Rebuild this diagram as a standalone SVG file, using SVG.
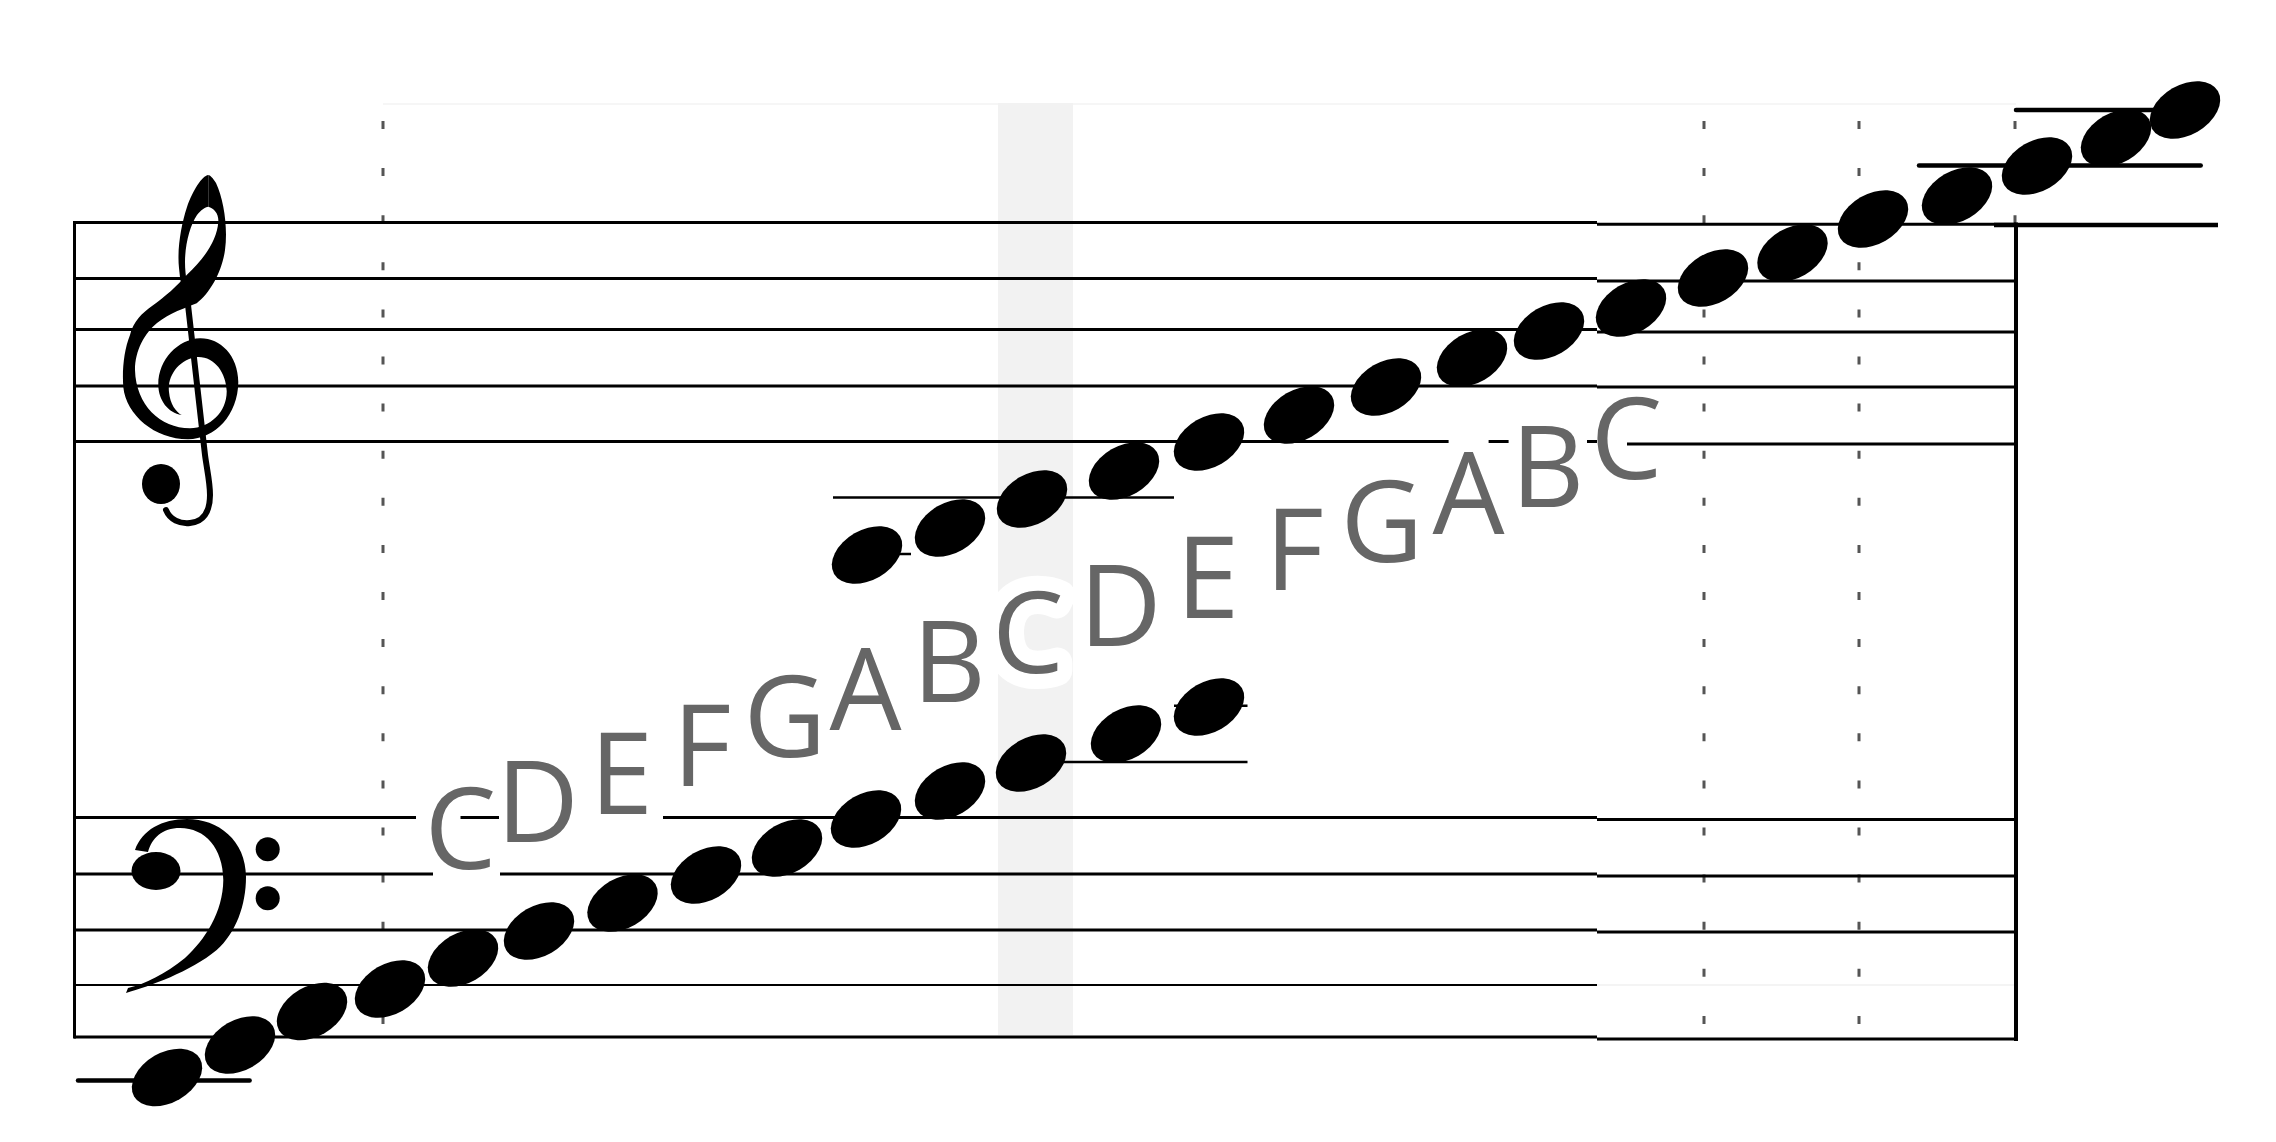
<svg xmlns="http://www.w3.org/2000/svg" xmlns:xlink="http://www.w3.org/1999/xlink" width="2276" height="1142" viewBox="0 0 2276 1142">
<style>
.st{stroke:#000;stroke-width:3;fill:none}
.st2{stroke:#000;stroke-width:2;fill:none}
.lg{stroke:#000;stroke-width:2.5;fill:none}
.lgr{stroke:#000;stroke-width:4.5;stroke-linecap:round;fill:none}
.dash{stroke:#555;stroke-width:3;stroke-dasharray:8 39.1;fill:none}
.lbl{font-family:"Open Sans","Liberation Sans",sans-serif;font-size:114px;fill:#666}
.halo{fill:#fff;stroke:#fff;stroke-width:30;stroke-linejoin:round}
.ink{fill:#000}
</style>
<defs>
<ellipse id="nh" cx="0" cy="0" rx="38" ry="25" transform="rotate(-30)"/>
</defs>
<rect x="0" y="0" width="2276" height="1142" fill="#fff"/>
<g id="background">
<line x1="383" y1="104" x2="2016" y2="104" stroke="#f3f3f3" stroke-width="1.5"/>
<rect x="998" y="103" width="75" height="932" fill="#f2f2f2"/>
</g>
<g id="guides">
<line class="dash" x1="383" y1="121" x2="383" y2="1040"/>
<line class="dash" x1="1704" y1="121" x2="1704" y2="1040"/>
<line class="dash" x1="1859" y1="121" x2="1859" y2="1040"/>
<line class="dash" x1="2015" y1="121" x2="2015" y2="224"/>
</g>
<g id="treble-staff">
<line class="st" x1="74" y1="222.5" x2="1597" y2="222.5"/>
<line class="st" x1="74" y1="278.5" x2="1597" y2="278.5"/>
<line class="st" x1="74" y1="329.5" x2="1597" y2="329.5"/>
<line class="st" x1="74" y1="386" x2="1597" y2="386"/>
<line class="st" x1="74" y1="441.5" x2="1448.6" y2="441.5"/>
<line class="st" x1="1488.6" y1="441.5" x2="1508.6" y2="441.5"/>
<line class="st" x1="1587" y1="441.5" x2="1597" y2="441.5"/>
<line class="st" x1="1597" y1="224.3" x2="2016" y2="224.3"/>
<line x1="1994" y1="225" x2="2218" y2="225" stroke="#000" stroke-width="4.5"/>
<line class="st" x1="1597" y1="281" x2="2016" y2="281"/>
<line class="st" x1="1597" y1="332" x2="2016" y2="332"/>
<line class="st" x1="1597" y1="387" x2="2016" y2="387"/>
<line class="st" x1="1627" y1="444" x2="2016" y2="444"/>
</g>
<g id="bass-staff">
<line class="st" x1="74" y1="817.5" x2="416" y2="817.5"/>
<line class="st" x1="460.5" y1="817.5" x2="499" y2="817.5"/>
<line class="st" x1="663" y1="817.5" x2="1597" y2="817.5"/>
<line class="st" x1="74" y1="874" x2="433" y2="874"/>
<line class="st" x1="500" y1="874" x2="1597" y2="874"/>
<line class="st" x1="74" y1="930" x2="1597" y2="930"/>
<line class="st2" x1="74" y1="985" x2="1597" y2="985"/>
<line class="st" x1="74" y1="1037" x2="1597" y2="1037"/>
<line class="st" x1="1597" y1="819.5" x2="2016" y2="819.5"/>
<line class="st" x1="1597" y1="876" x2="2016" y2="876"/>
<line class="st" x1="1597" y1="932" x2="2016" y2="932"/>
<line x1="1597" y1="985" x2="2016" y2="985" stroke="#f4f4f4" stroke-width="2"/>
<line class="st" x1="1597" y1="1039" x2="2016" y2="1039"/>
</g>
<g id="frame">
<line x1="74.5" y1="221" x2="74.5" y2="1038.5" stroke="#000" stroke-width="3"/>
<line x1="2016" y1="222.5" x2="2016" y2="1041" stroke="#000" stroke-width="4"/>
</g>
<g id="ledgers">
<line class="lgr" x1="78" y1="1080.4" x2="249.6" y2="1080.4"/>
<line class="lg" x1="1063.6" y1="762" x2="1247.5" y2="762"/>
<line class="lg" x1="1174" y1="705.7" x2="1247.5" y2="705.7"/>
<line class="lg" x1="833" y1="497.5" x2="1174" y2="497.5"/>
<line class="lg" x1="840" y1="554" x2="911" y2="554"/>
<line class="lgr" x1="1919" y1="165.4" x2="2200.7" y2="165.4"/>
<line class="lgr" x1="2016" y1="110" x2="2190" y2="110"/>
</g>
<g id="treble-clef" class="ink">
<path d="M181.7,415 C176,412 170,404 169,392 C167,375 180,359 197,357 C214,356 226,372 226.7,391 C227,412 210,428 190,428.3 C160,428 136,405 135,370 C135,350 145,333 157,323 C170,313 185,308 196.7,303.3 C210,293 222,272 225,250 C228,228 224,200 216,183 C213,178 210,175 208.3,175 L208.3,206.7 C214,208 219,214 218.3,222 C217,240 205,258 186.7,275 C178,285 165,297 152,306 C142,313 133,322 130,335 C124,350 122,370 123.3,387 C126,415 155,439.3 188,439.3 C215,439 238,415 238.3,382 C238,355 220,338 200,338.3 C178,339 158,360 158.3,385 C158.5,400 168,413 181.7,415 Z"/>
<path d="M208.3,175 C202,176 193,190 187,207 C181,225 177,250 179,268 C180,280 182,290 185,300 L190,300 C188,288 185,276 185,262 C185,245 190,225 197,215 C201,210 205,207 208.3,206.7 Z"/>
<path d="M187,296 L205,455 C207,470 210,482 210,495 C210,512 203,522 190,523 C180,524 170,520 166,510" fill="none" stroke="#000" stroke-width="6" stroke-linecap="round"/>
<ellipse cx="161" cy="484" rx="19" ry="20"/>
</g>
<g id="bass-clef" class="ink">
<path d="M135,850 C142,830 162,819 187,819 C218,819 246,840 246,877 C246,905 236,933 216.7,950 C190,972 150,986 126,993 L128,988 C145,984 165,974 185,958 C205,940 223,912 223.3,880 C223,848 205,828 180,828 C162,828 152,838 148,852 Z"/>
<ellipse cx="156" cy="871" rx="24.5" ry="19"/>
<circle cx="267.7" cy="849.3" r="12"/>
<circle cx="267.7" cy="898.3" r="12"/>
</g>
<g id="labels">
<text id="lbl-c3" class="lbl" x="460.5" y="868.5" text-anchor="middle">C</text>
<text id="lbl-d3" class="lbl" x="537.5" y="842" text-anchor="middle">D</text>
<text id="lbl-e3" class="lbl" x="621.5" y="814" text-anchor="middle">E</text>
<text id="lbl-f3" class="lbl" x="702" y="786" text-anchor="middle">F</text>
<text id="lbl-g3" class="lbl" x="785" y="757" text-anchor="middle">G</text>
<text id="lbl-a3" class="lbl" x="865.5" y="730" text-anchor="middle">A</text>
<text id="lbl-b3" class="lbl" x="949" y="702" text-anchor="middle">B</text>
<g id="lbl-c4">
<text class="lbl halo" x="1028" y="673" text-anchor="middle">C</text>
<text class="lbl" x="1028" y="673" text-anchor="middle">C</text>
</g>
<text id="lbl-d4" class="lbl" x="1120.3" y="646" text-anchor="middle">D</text>
<text id="lbl-e4" class="lbl" x="1207.8" y="617.5" text-anchor="middle">E</text>
<text id="lbl-f4" class="lbl" x="1294.5" y="590" text-anchor="middle">F</text>
<text id="lbl-g4" class="lbl" x="1382" y="562" text-anchor="middle">G</text>
<text id="lbl-a4" class="lbl" x="1468.5" y="534" text-anchor="middle">A</text>
<text id="lbl-b4" class="lbl" x="1547.5" y="507" text-anchor="middle">B</text>
<text id="lbl-c5" class="lbl" x="1626.5" y="479" text-anchor="middle">C</text>
</g>
<g id="bass-notes" class="ink">
<use id="nb1" xlink:href="#nh" x="167" y="1077.5"/>
<use id="nb2" xlink:href="#nh" x="240" y="1045"/>
<use id="nb3" xlink:href="#nh" x="312" y="1011.5"/>
<use id="nb4" xlink:href="#nh" x="390" y="989"/>
<use id="nb5" xlink:href="#nh" x="463" y="958"/>
<use id="nb6" xlink:href="#nh" x="539" y="931"/>
<use id="nb7" xlink:href="#nh" x="622.5" y="903"/>
<use id="nb8" xlink:href="#nh" x="706" y="875"/>
<use id="nb9" xlink:href="#nh" x="787" y="848"/>
<use id="nb10" xlink:href="#nh" x="866" y="819"/>
<use id="nb11" xlink:href="#nh" x="950" y="791"/>
<use id="nb12" xlink:href="#nh" x="1031" y="763"/>
<use id="nb13" xlink:href="#nh" x="1126" y="734"/>
<use id="nb14" xlink:href="#nh" x="1209" y="707"/>
</g>
<g id="treble-notes" class="ink">
<use id="nt1" xlink:href="#nh" x="867" y="555"/>
<use id="nt2" xlink:href="#nh" x="950" y="528"/>
<use id="nt3" xlink:href="#nh" x="1032" y="499"/>
<use id="nt4" xlink:href="#nh" x="1124" y="471"/>
<use id="nt5" xlink:href="#nh" x="1209" y="442"/>
<use id="nt6" xlink:href="#nh" x="1299" y="415"/>
<use id="nt7" xlink:href="#nh" x="1386" y="387"/>
<use id="nt8" xlink:href="#nh" x="1472" y="358"/>
<use id="nt9" xlink:href="#nh" x="1549" y="331"/>
<use id="nt10" xlink:href="#nh" x="1631" y="308"/>
<use id="nt11" xlink:href="#nh" x="1713" y="278"/>
<use id="nt12" xlink:href="#nh" x="1792.5" y="253"/>
<use id="nt13" xlink:href="#nh" x="1873" y="219"/>
<use id="nt14" xlink:href="#nh" x="1957" y="196"/>
<use id="nt15" xlink:href="#nh" x="2037" y="166"/>
<use id="nt16" xlink:href="#nh" x="2116" y="138"/>
<use id="nt17" xlink:href="#nh" x="2185" y="110"/>
</g>
</svg>
